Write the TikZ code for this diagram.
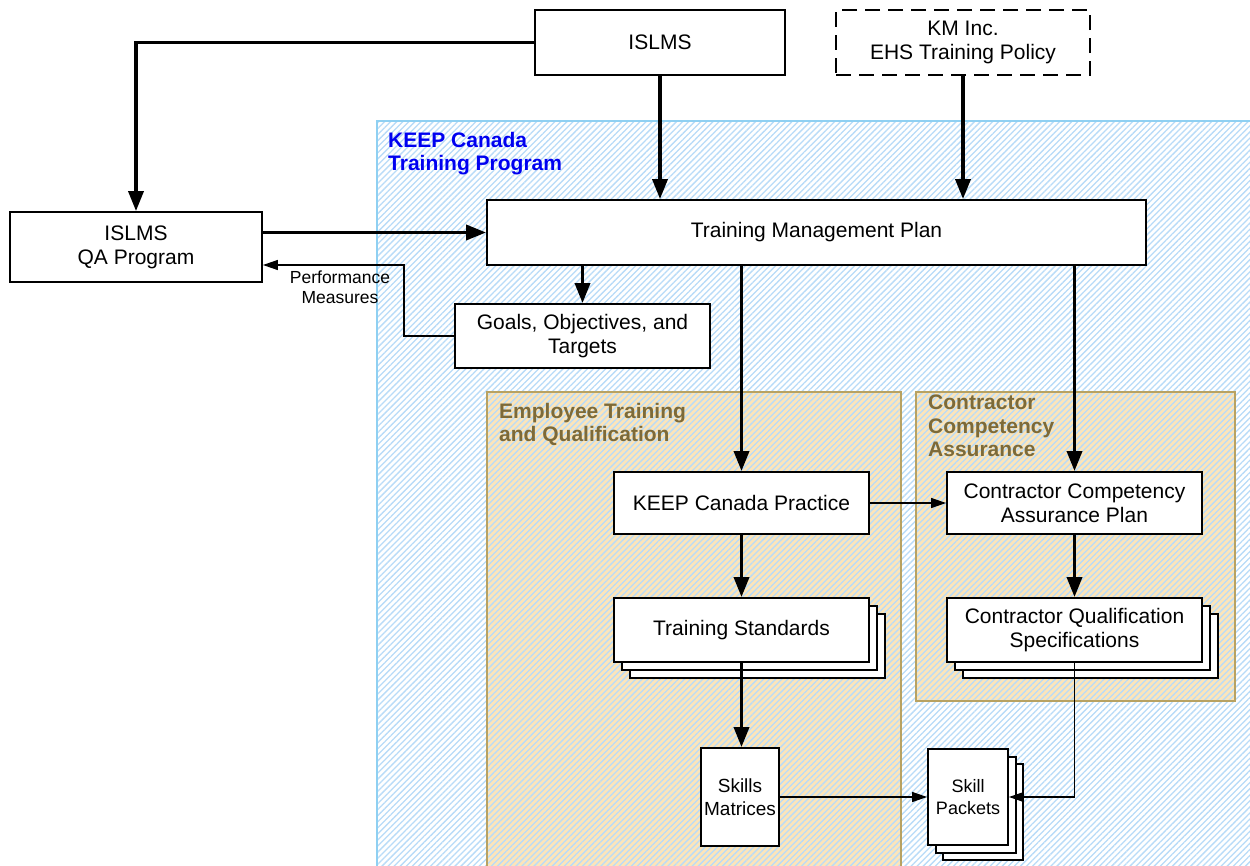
\documentclass[tikz,border=0pt]{standalone}
\usepackage{fontspec}
\setmainfont{Liberation Sans}
\usetikzlibrary{arrows.meta,patterns.meta}
\definecolor{hatchblue}{HTML}{B8DBF8}
\definecolor{regionblue}{HTML}{8FD0F2}
\definecolor{tanfill}{HTML}{FCE5BA}
\definecolor{tanborder}{HTML}{B8A262}
\definecolor{tantext}{HTML}{7D6A38}
\definecolor{titleblue}{HTML}{0000F0}
\tikzset{
  box/.style={draw=black, line width=1.8pt, fill=white, inner sep=0pt, align=center,
    font=\fontsize{21}{24}\selectfont},
  smallbox/.style={box, font=\fontsize{18}{22}\selectfont},
  stackcopy/.style={draw=black, line width=1.8pt, fill=white, inner sep=0pt},
  thickarrow/.style={line width=3.5pt, -{Triangle[length=20pt,width=15pt]}},
  thinarrow/.style={line width=1.2pt, -{Triangle[length=15pt,width=10pt]}},
  hatch/.style={pattern={Lines[angle=45,distance=4.3pt,line width=1.3pt]}, pattern color=hatchblue},
  regiontitle/.style={anchor=north west, align=left, inner sep=0pt,
    font=\bfseries\fontsize{21}{23.5}\selectfont},
}
\begin{document}
\begin{tikzpicture}[x=1pt,y=-1pt]
\useasboundingbox (0,0) rectangle (1250,865);
\begin{scope}
\clip (0,0) rectangle (1250,865);
% blue program region
\path[fill=white] (377,121) rectangle (1260,875);
\path[hatch] (377,121) rectangle (1260,875);
\draw[regionblue, line width=1.2pt] (1260,121) -- (377,121) -- (377,875);
% tan regions
\path[fill=tanfill] (487,392) rectangle (901,875);
\path[hatch] (487,392) rectangle (901,875);
\draw[tanborder, line width=1.2pt] (487,875) -- (487,392) -- (901,392) -- (901,875);
\path[fill=tanfill] (916,392) rectangle (1235,701);
\path[hatch] (916,392) rectangle (1235,701);
\draw[tanborder, line width=1.2pt] (916,392) rectangle (1235,701);
\end{scope}
% region titles
\node[regiontitle, text=titleblue] (progtitle) at (388,132) {KEEP Canada\\Training Program};
\node[regiontitle, text=tantext] (emptitle) at (499,403) {Employee Training\\and Qualification};
\node[regiontitle, text=tantext] (contitle) at (928,395) {Contractor\\Competency\\Assurance};
% top nodes
\node[box, minimum width=250pt, minimum height=65pt] (islms) at (660,42.5) {ISLMS};
\node[box, dash pattern=on 15pt off 8pt, minimum width=254pt, minimum height=65pt] (km) at (963,42.5) {KM Inc.\\EHS Training Policy};
\node[box, minimum width=252pt, minimum height=70pt] (qa) at (136,247) {ISLMS\\QA Program};
\node[box, minimum width=659pt, minimum height=65pt] (tmp) at (816.5,232.5) {Training Management Plan};
\node[box, minimum width=255pt, minimum height=64pt] (goals) at (582.5,336) {Goals, Objectives, and\\Targets};
\node[box, minimum width=255pt, minimum height=62pt] (kcp) at (741.5,503) {KEEP Canada Practice};
\node[box, minimum width=255pt, minimum height=62pt] (ccap) at (1074.5,503) {Contractor Competency\\Assurance Plan};
% stacked documents
\node[stackcopy, minimum width=255pt, minimum height=64pt] (ts3) at (757.5,646) {};
\node[stackcopy, minimum width=255pt, minimum height=64pt] (ts2) at (749.5,638) {};
\node[box, minimum width=255pt, minimum height=64pt] (ts) at (741.5,630) {Training Standards};
\node[stackcopy, minimum width=255pt, minimum height=64pt] (cqs3) at (1090.5,646) {};
\node[stackcopy, minimum width=255pt, minimum height=64pt] (cqs2) at (1082.5,638) {};
\node[box, minimum width=255pt, minimum height=64pt] (cqs) at (1074.5,630) {Contractor Qualification\\Specifications};
\node[box, font=\fontsize{19}{23}\selectfont, minimum width=78pt, minimum height=98pt] (sm) at (740,797) {Skills\\Matrices};
\node[stackcopy, minimum width=80pt, minimum height=96pt] (sp3) at (983,812) {};
\node[stackcopy, minimum width=80pt, minimum height=96pt] (sp2) at (976,805) {};
\node[smallbox, minimum width=80pt, minimum height=96pt] (sp) at (968,797) {Skill\\Packets};
% connectors
\draw[thickarrow] (islms.west) -| (qa.north);
\draw[thickarrow] (islms.south) -- (islms.south |- tmp.north);
\draw[thickarrow] (km.south) -- (km.south |- tmp.north);
\draw[thickarrow] (tmp.west -| qa.east) -- (tmp.west);
\draw[thickarrow] (tmp.south -| goals.north) -- (goals.north);
\draw[thickarrow] (tmp.south -| kcp.north) -- (kcp.north);
\draw[thickarrow] (tmp.south -| ccap.north) -- (ccap.north);
\draw[thickarrow] (kcp.south) -- (ts.north);
\draw[thickarrow] (ts.south) -- (ts.south |- sm.north);
\draw[thickarrow] (ccap.south) -- (cqs.north);
\draw[thinarrow] (kcp.east) -- (ccap.west);
\draw[thinarrow] (sm.east) -- (sp.west);
\draw[thinarrow] (cqs.south) |- (sp.east);
\coordinate (pmcorner) at (404,265);
\draw[thinarrow] (goals.west) -| (pmcorner) -- (pmcorner -| qa.east);
\node[align=center, inner sep=0pt, font=\fontsize{17.5}{20.5}\selectfont] (pmlabel) at (340,287) {Performance\\Measures};
\end{tikzpicture}
\end{document}
